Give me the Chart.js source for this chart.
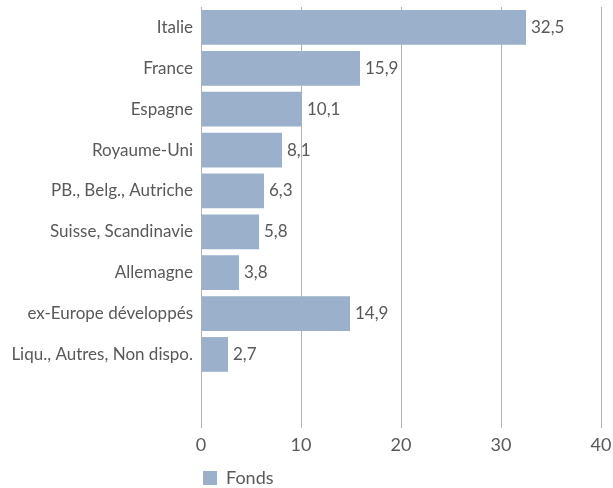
<!DOCTYPE html>
<html>
<head>
<meta charset="utf-8">
<script src="https://cdn.jsdelivr.net/npm/chart.js@4"></script>
<style>
  body { margin: 0; background: #fff; }
  #wrap { width: 613px; height: 488px; }
</style>
</head>
<body>
<div id="wrap"><canvas id="myChart"></canvas></div>
<script>
// data
var categories = ['Italie', 'France', 'Espagne', 'Royaume-Uni', 'PB., Belg., Autriche',
    'Suisse, Scandinavie', 'Allemagne', 'ex-Europe développés', 'Liqu., Autres, Non dispo.'];
var fonds = [32.5, 15.9, 10.1, 8.1, 6.3, 5.8, 3.8, 14.9, 2.7];
var xTicks = [0, 10, 20, 30, 40];

var textColor = '#595959';
var barColor = '#9bb0ca';
var fontFamily = 'Lato, "Open Sans", sans-serif';

// writes the value next to the end of each bar, with a decimal comma
var valueLabels = {
    id: 'valueLabels',
    afterDatasetsDraw: function (chart) {
        var ctx = chart.ctx;
        var meta = chart.getDatasetMeta(0);
        ctx.save();
        ctx.font = '17px ' + fontFamily;
        ctx.fillStyle = textColor;
        ctx.textAlign = 'left';
        ctx.textBaseline = 'middle';
        meta.data.forEach(function (bar, i) {
            ctx.fillText(fonds[i].toFixed(1).replace('.', ','), bar.x + 5, bar.y);
        });
        ctx.restore();
    }
};

var element = document.getElementById('myChart').getContext('2d');

var chart = new Chart(element, {
    type: 'bar',
    data: {
        datasets: [{
            label: 'Fonds',
            data: fonds.map(function (v, i) { return { x: v, y: i }; }),
            backgroundColor: barColor,
            borderWidth: 0,
            categoryPercentage: 1,
            barPercentage: 0.85
        }]
    },
    options: {
        indexAxis: 'y',
        responsive: true,
        maintainAspectRatio: false,
        animation: false,
        layout: { padding: { top: 7, right: 12, bottom: -9, left: 0 } },
        scales: {
            x: {
                min: 0,
                max: 40,
                afterBuildTicks: function (scale) {
                    scale.ticks = xTicks.map(function (v) { return { value: v }; });
                },
                afterFit: function (scale) {
                    scale.height = 39;
                    scale.paddingLeft = 0;
                    scale.paddingRight = 0;
                },
                grid: { color: '#b4b4b4', drawTicks: false, lineWidth: 1 },
                border: { display: false },
                ticks: { color: textColor, padding: 6, maxRotation: 0, font: { family: fontFamily, size: 18 } }
            },
            y: {
                type: 'linear',
                reverse: true,
                offset: false,
                min: -0.5,
                max: 9.8,
                afterBuildTicks: function (scale) {
                    scale.ticks = categories.map(function (c, i) { return { value: i }; });
                },
                afterFit: function (scale) {
                    scale.width = 201;
                    scale.paddingTop = 0;
                    scale.paddingBottom = 0;
                },
                grid: { display: false, drawTicks: false, offset: false },
                border: { display: false },
                ticks: {
                    autoSkip: false,
                    color: textColor,
                    padding: 8,
                    font: { family: fontFamily, size: 17 },
                    callback: function (v) { return categories[v]; }
                }
            }
        },
        plugins: {
            legend: {
                position: 'bottom',
                align: 'start',
                fullSize: false,
                labels: {
                    color: textColor,
                    boxWidth: 14,
                    boxHeight: 14,
                    padding: 2,
                    font: { family: fontFamily, size: 18 }
                }
            },
            tooltip: { enabled: false }
        }
    },
    plugins: [valueLabels]
});
</script>
</body>
</html>
